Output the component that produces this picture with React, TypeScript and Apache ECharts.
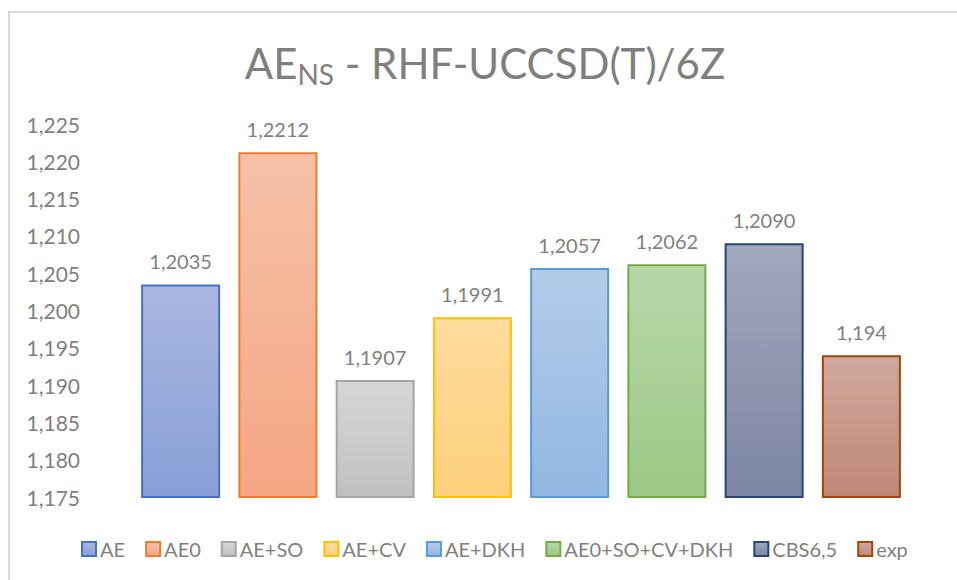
import React, { useEffect, useRef } from "react";
import * as echarts from "echarts";

// Bond length results per method (one bar each)
const methods = ["AE", "AE0", "AE+SO", "AE+CV", "AE+DKH", "AE0+SO+CV+DKH", "CBS6,5", "exp"];
const values = [1.2035, 1.2212, 1.1907, 1.1991, 1.2057, 1.2062, 1.209, 1.194];
const decimals = [4, 4, 4, 4, 4, 4, 4, 3];

// Axis range
const yMin = 1.175;
const yMax = 1.225;
const yStep = 0.005;

// Fill gradients (top, bottom) and outline colours per bar
const fillTop = ["#aab7e0", "#f6c1a8", "#d6d6d6", "#fedc9d", "#b3cce9", "#b8d7aa", "#a2a8bd", "#d0a89d"];
const fillBottom = ["#889fd7", "#f5a683", "#c0c0c0", "#fdd07c", "#92b7e2", "#9cc885", "#7c85a3", "#bf8777"];
const outline = ["#4472c4", "#ed7d31", "#a5a5a5", "#ffc000", "#5b9bd5", "#70ad47", "#264478", "#9e480e"];

const FONT = "Lato";
const TEXT = "#7f7f7f";

const fmt = (v: number, d: number) => v.toFixed(d).replace(".", ",");

export default function App() {
  const ref = useRef<HTMLDivElement>(null);

  useEffect(() => {
    if (!ref.current) return;
    const chart = echarts.init(ref.current, undefined, { renderer: "svg" });

    const series = methods.map((name, i) => ({
      name,
      type: "bar" as const,
      barWidth: 79,
      barGap: "-100%",
      data: methods.map((_, j) => (j === i ? values[i] : "-")),
      itemStyle: {
        color: new echarts.graphic.LinearGradient(0, 0, 0, 1, [
          { offset: 0, color: fillTop[i] },
          { offset: 1, color: fillBottom[i] },
        ]),
        borderColor: outline[i],
        borderWidth: 2,
      },
      label: {
        show: true,
        position: "top" as const,
        distance: 13,
        fontFamily: FONT,
        fontSize: 20,
        color: TEXT,
        formatter: () => fmt(values[i], decimals[i]),
      },
    }));

    chart.setOption({
      animation: false,
      backgroundColor: "#ffffff",
      textStyle: { fontFamily: FONT },
      title: {
        left: 485,
        top: 37,
        padding: 0,
        textAlign: "center",
        text: "{m|AE}{s|NS}{m| - RHF-UCCSD(T)/6Z}",
        textStyle: {
          fontWeight: "normal",
          rich: {
            m: { fontFamily: FONT, fontSize: 42, fontWeight: "normal", color: TEXT, lineHeight: 52 },
            s: {
              fontFamily: FONT,
              fontSize: 28,
              fontWeight: "normal",
              color: TEXT,
              lineHeight: 28,
              padding: [22, 0, 0, 0],
            },
          },
        },
      },
      graphic: [
        {
          type: "rect",
          shape: { x: 9, y: 12, width: 1200, height: 1200 },
          style: { fill: "none", stroke: "#d9d9d9", lineWidth: 2 },
          silent: true,
          z: -1,
        },
      ],
      legend: {
        left: 76,
        top: 534,
        icon: "rect",
        itemWidth: 14,
        itemHeight: 14,
        itemGap: 20,
        textStyle: { fontFamily: FONT, fontSize: 20, color: TEXT, padding: [0, 0, 0, -1] },
        data: methods,
      },
      grid: { left: 132, right: 47, top: 124, bottom: 83 },
      xAxis: {
        type: "category",
        data: methods,
        axisLine: { show: false },
        axisTick: { show: false },
        axisLabel: { show: false },
      },
      yAxis: {
        type: "value",
        min: yMin,
        max: yMax,
        interval: yStep,
        axisLine: { show: false },
        axisTick: { show: false },
        splitLine: { show: false },
        axisLabel: {
          margin: 52,
          fontFamily: FONT,
          fontSize: 21,
          color: TEXT,
          formatter: (v: number) => fmt(v, 3),
        },
      },
      series,
    });

    return () => chart.dispose();
  }, []);

  return (
    <div
      ref={ref}
      style={{ position: "fixed", left: 0, top: 0, width: 957, height: 580 }}
    />
  );
}
